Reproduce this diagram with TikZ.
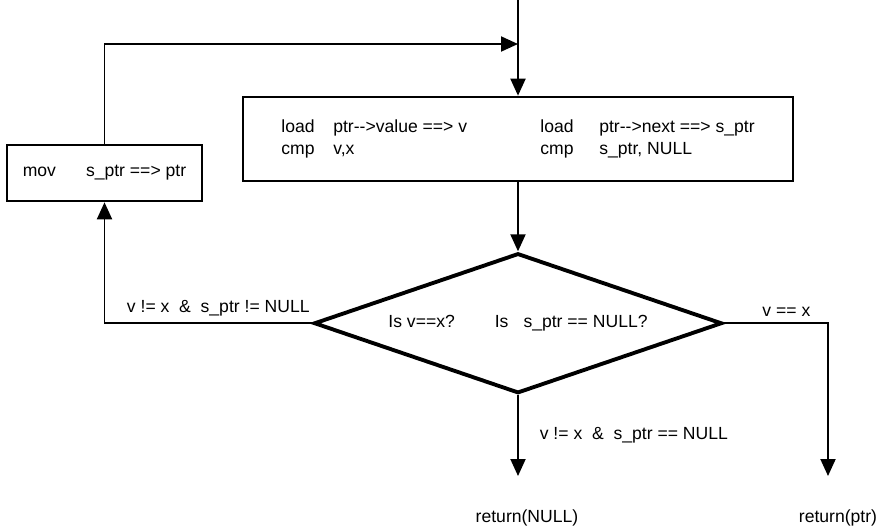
\documentclass[tikz,border=0pt]{standalone}
\usepackage{fontspec}
\setmainfont{Liberation Sans}
\usetikzlibrary{positioning, arrows.meta, shapes.geometric}

\begin{document}
\begin{tikzpicture}[
    every node/.style={font=\fontsize{10}{13}\selectfont},
    stepbox/.style={draw, line width=1.5pt, inner sep=0pt},
    test/.style={diamond, aspect=2.9, draw, line width=2.2pt, minimum width=8.16cm, minimum height=2.8cm, inner sep=0pt},
    flow/.style={draw, line width=1.1pt, -{Triangle[length=0.34cm, width=0.3cm]}}
]
\useasboundingbox (0,0) rectangle (17.7,10.58);

\node[stepbox, minimum width=11cm, minimum height=1.68cm] (load) at (10.36,7.8)
    {\begin{tabular}{@{}p{1.04cm}@{}p{4.14cm}@{}p{1.18cm}@{}l@{}}
     load & ptr-{}->value ==> v & load & ptr-{}->next ==> s\_ptr \\
     cmp  & v,x                 & cmp  & s\_ptr, NULL
     \end{tabular}};
\node[test, below=1.38cm of load] (test)
    {Is v==x?\hspace{0.8cm}Is\hspace{0.3cm}s\_ptr == NULL?};
\node[stepbox, minimum width=3.9cm, minimum height=1.12cm] (mov) at (2.09,7.12)
    {mov\hspace{0.6cm}s\_ptr ==> ptr};

\coordinate (entry) at (load.north |- 0,10.58);
\coordinate (join) at (load.north |- 0,9.7);
\coordinate (corner) at (test.east -| 16.56,0);
\coordinate (nullend) at (test.south |- 0,1.06);
\coordinate (ptrend) at (corner |- 0,1.06);

\node[below=0.55cm of nullend, xshift=0.18cm] (retnull) {return(NULL)};
\node[below=0.55cm of ptrend, xshift=0.2cm] (retptr) {return(ptr)};

\draw[flow] (entry) -- (load.north);
\draw[flow] (mov.north) |- (join);
\draw[flow] (load.south) -- (test.north);
\draw[flow] (test.west) -- node[above, xshift=0.2cm] {v != x\ \ \&\ \ s\_ptr != NULL} (test.west -| mov.south) -- (mov.south);
\draw[flow] (test.east) -- node[above, pos=0.6] {v == x} (corner) -- (ptrend);
\draw[flow] (test.south) -- node[right=0.3cm] {v != x\ \ \&\ \ s\_ptr == NULL} (nullend);
\end{tikzpicture}
\end{document}
